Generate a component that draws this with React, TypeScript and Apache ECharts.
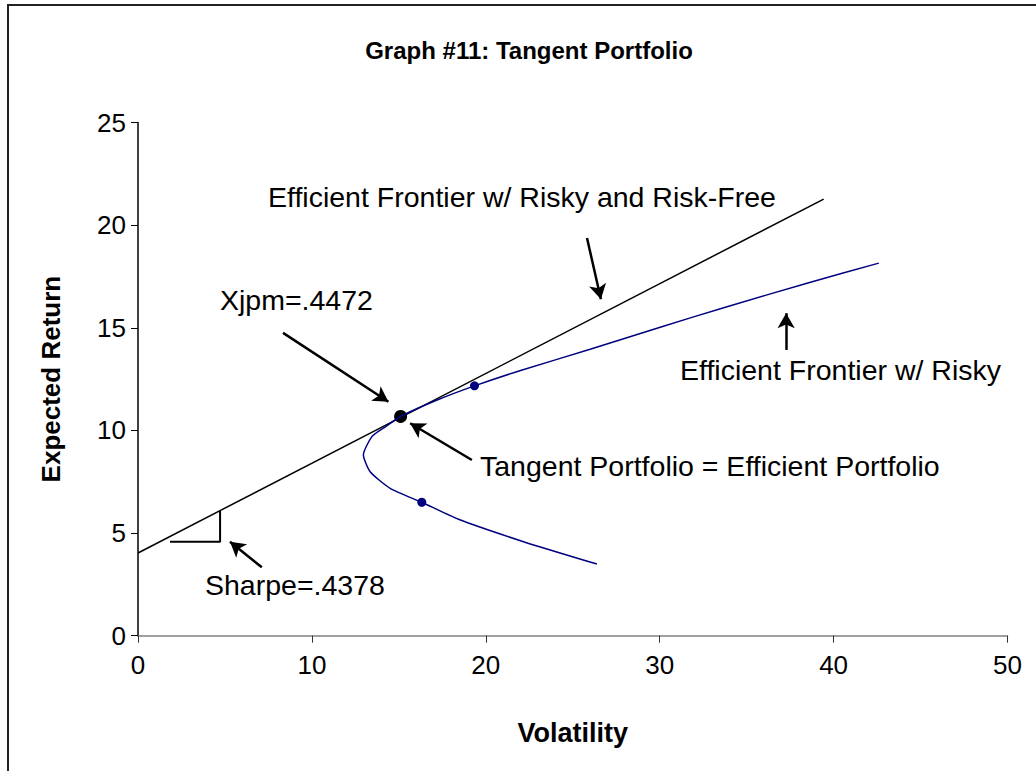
import React, { useEffect, useRef } from "react";
import * as echarts from "echarts";

const titleText = "Graph #11: Tangent Portfolio";
const xName = "Volatility";
const yName = "Expected Return";

// Capital market line (risk-free 4, through tangent portfolio)
const cmlLine: number[][] = [
  [0, 4.03],
  [39.43, 21.27],
];

// Efficient frontier of risky assets (lower branch -> upper branch)
const frontier: number[][] = [
  [26.39, 3.49],
  [22.17, 4.58],
  [18.43, 5.67],
  [16.32, 6.5],
  [14.5, 7.18],
  [13.35, 7.99],
  [12.96, 8.81],
  [13.45, 9.7],
  [14.11, 10.11],
  [15.1, 10.68],
  [17.2, 11.48],
  [19.35, 12.17],
  [22.0, 12.92],
  [26.0, 13.95],
  [30.03, 15.03],
  [33.68, 15.98],
  [38.47, 17.17],
  [42.6, 18.15],
];

const assets: number[][] = [
  [16.32, 6.5],
  [19.35, 12.17],
];

const tangent: number[][] = [[15.1, 10.68]];

// Sharpe slope triangle
const sharpeTriangle: number[][] = [
  [1.84, 4.58],
  [4.72, 4.58],
  [4.72, 6.09],
];

// Annotation arrows: [tailX, tailY, tipX, tipY] in data units
const arrows: number[][] = [
  [8.34, 14.75, 14.4, 11.4],
  [19.2, 8.56, 15.65, 10.35],
  [7.12, 3.33, 5.29, 4.58],
  [25.82, 19.37, 26.62, 16.39],
  [37.27, 13.92, 37.27, 15.71],
];

const FONT = "'Liberation Sans', Arial, sans-serif";

export default function App() {
  const ref = useRef<HTMLDivElement>(null);
  useEffect(() => {
    if (!ref.current) return;
    const chart = echarts.init(ref.current, undefined, { renderer: "svg" });
    const annStyle = (text: string) => ({
      text,
      fill: "#000",
      font: `28.5px ${FONT}`,
      textVerticalAlign: "middle",
    });
    chart.setOption({
      animation: false,
      backgroundColor: "#fff",
      textStyle: { fontFamily: FONT },
      title: {
        text: titleText,
        left: 524,
        textAlign: "center",
        top: 33,
        textStyle: { fontSize: 24, fontWeight: "bold", color: "#000", fontFamily: FONT },
      },
      grid: { left: 138, right: 28.5, top: 122.5, bottom: 135.3 },
      xAxis: {
        type: "value",
        min: 0,
        max: 50,
        interval: 10,
        name: xName,
        nameLocation: "middle",
        nameGap: 84,
        nameTextStyle: { fontSize: 27, fontWeight: "bold", color: "#000", fontFamily: FONT },
        axisLine: { show: true, lineStyle: { color: "#808080", width: 1.5 } },
        axisTick: { show: true, length: 7, lineStyle: { color: "#333", width: 1 } },
        axisLabel: { fontSize: 26, color: "#000", margin: 16, fontFamily: FONT },
        splitLine: { show: false },
      },
      yAxis: {
        type: "value",
        min: 0,
        max: 25,
        interval: 5,
        name: yName,
        nameLocation: "middle",
        nameGap: 74,
        nameTextStyle: { fontSize: 26, fontWeight: "bold", color: "#000", fontFamily: FONT },
        axisLine: { show: true, onZero: false, lineStyle: { color: "#000", width: 1.5 } },
        axisTick: { show: true, length: 7, lineStyle: { color: "#000", width: 1 } },
        axisLabel: { fontSize: 26, color: "#000", margin: 12, fontFamily: FONT },
        splitLine: { show: false },
      },
      series: [
        {
          type: "line",
          data: cmlLine,
          showSymbol: false,
          lineStyle: { color: "#000", width: 1.5 },
          silent: true,
          markLine: {
            silent: true,
            symbol: ["none", "arrow"],
            symbolSize: [13, 15],
            label: { show: false },
            lineStyle: { color: "#000", width: 2.5, type: "solid" },
            data: arrows.map((a) => [
              { coord: [a[0], a[1]] },
              { coord: [a[2], a[3]] },
            ]),
          },
        },
        {
          type: "line",
          data: frontier,
          showSymbol: false,
          smooth: 0.2,
          lineStyle: { color: "#000080", width: 1.5 },
        },
        {
          type: "line",
          data: sharpeTriangle,
          showSymbol: false,
          lineStyle: { color: "#000", width: 2 },
        },
        {
          type: "scatter",
          data: assets,
          symbolSize: 9,
          itemStyle: { color: "#000080", opacity: 1 },
        },
        {
          type: "scatter",
          data: tangent,
          symbolSize: 13,
          itemStyle: { color: "#000", opacity: 1 },
        },
      ],
      graphic: [
        {
          type: "rect",
          shape: { x: 8, y: 5, width: 1100, height: 900 },
          style: { fill: "none", stroke: "#222", lineWidth: 2 },
          silent: true,
        },
        { type: "text", x: 268, y: 197, style: annStyle("Efficient Frontier w/ Risky and Risk-Free") },
        { type: "text", x: 220, y: 300, style: annStyle("Xjpm=.4472") },
        { type: "text", x: 680, y: 370, style: annStyle("Efficient Frontier w/ Risky") },
        { type: "text", x: 480, y: 466, style: annStyle("Tangent Portfolio = Efficient Portfolio") },
        { type: "text", x: 205, y: 585, style: annStyle("Sharpe=.4378") },
      ],
    });
    return () => chart.dispose();
  }, []);
  return (
    <div
      ref={ref}
      style={{ position: "absolute", left: 0, top: 0, width: 1036, height: 771 }}
    />
  );
}
